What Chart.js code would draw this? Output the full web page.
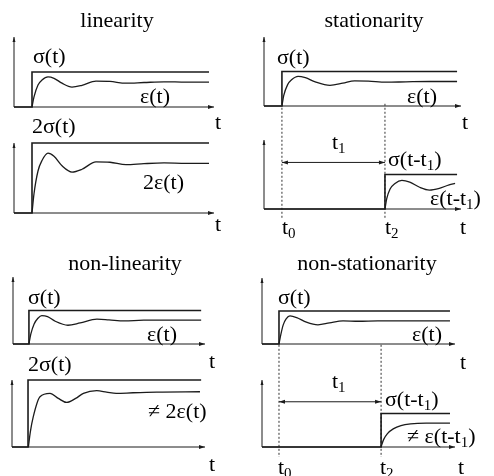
<!DOCTYPE html>
<html>
<head>
<meta charset="utf-8">
<script src="https://cdn.jsdelivr.net/npm/chart.js"></script>
<style>
  body { margin: 0; background: #fff; }
  #wrap { position: relative; width: 494px; height: 476px; }
  #wrap canvas { position: absolute; left: 0; top: 0; }
</style>
</head>
<body>
<div id="wrap"></div>
<script>
// --- data (time axis 0..100, y axis 0..2 with sigma = 1) ---
// linearity
const linStepT = [0, 9, 9, 97.5];
const linStepV = [0, 0, 1, 1];
const linStep2V = [0, 0, 2, 2];
const linRespT = [9, 10, 12, 14, 17, 20, 24, 29, 34, 41, 48, 56, 65, 75, 86, 97.5];
const linRespV = [0, 0.29, 0.63, 0.77, 0.86, 0.82, 0.68, 0.57, 0.62, 0.74, 0.73, 0.68, 0.70, 0.72, 0.71, 0.71];
const linResp2V = [0, 0.55, 1.2, 1.5, 1.71, 1.62, 1.35, 1.17, 1.25, 1.46, 1.45, 1.38, 1.41, 1.43, 1.42, 1.42];

// stationarity
const statStepT = [0, 9.1, 9.1, 98];
const statRespT = [9.1, 10, 12, 14, 17.3, 21, 26, 33.5, 40, 46, 53, 62, 72, 84, 98];
const statRespV = [0, 0.3, 0.62, 0.76, 0.86, 0.82, 0.7, 0.6, 0.66, 0.73, 0.72, 0.69, 0.7, 0.71, 0.71];
const statDelayStepT = [0, 61.4, 61.4, 98];
const statDelayRespT = [61.4, 62.3, 64, 66.5, 70, 74, 79, 84, 89, 94, 97];
const statDelayRespV = [0, 0.3, 0.58, 0.74, 0.83, 0.78, 0.63, 0.55, 0.6, 0.7, 0.74];
const statMarks = [9.1, 61.4]; // t0, t2

// non-linearity
const nlinStepT = [0, 8.3, 8.3, 98];
const nlinRespT = [8.3, 9.3, 11, 13, 15, 18, 22, 28.6, 35, 43.7, 50, 58, 68, 80, 98];
const nlinRespV = [0, 0.3, 0.6, 0.77, 0.85, 0.82, 0.68, 0.56, 0.63, 0.74, 0.72, 0.69, 0.71, 0.71, 0.71];
const nlinResp2T = [8.5, 9.5, 11, 14.5, 19.7, 24, 28.3, 33, 37, 43.9, 49, 54, 62.7, 75, 97.4];
const nlinResp2V = [0, 0.45, 0.9, 1.5, 1.6, 1.45, 1.33, 1.45, 1.6, 1.68, 1.64, 1.6, 1.62, 1.64, 1.65];

// non-stationarity
const nstStepT = [0, 8.8, 8.8, 97.4];
const nstRespT = [8.8, 9.8, 11, 12.5, 14.5, 18, 23, 29, 35, 42, 50, 60, 72, 85, 97.4];
const nstRespV = [0, 0.3, 0.58, 0.76, 0.85, 0.8, 0.66, 0.58, 0.64, 0.7, 0.69, 0.7, 0.7, 0.7, 0.7];
const nstDelayStepT = [0, 61.7, 61.7, 97.4];
const nstDelayRespT = [61.7, 63, 65, 68, 72, 77, 85, 97.4];
const nstDelayRespV = [0, 0.22, 0.4, 0.54, 0.64, 0.69, 0.71, 0.71];
const nstMarks = [8.8, 61.7];

const arrowLevel = 1.35;     // height of the t1 arrow
const dashRange = [3.05, -0.3]; // dotted guides run up to the panel above

const W = 494, H = 476;
const INK = '#1b1b1b';
const FONT = '"Liberation Serif", "Times New Roman", serif';

function pts(ts, vs) {
    return ts.map((t, i) => ({ x: t, y: vs[i] }));
}
function stepLine(ts, vs) {
    return { data: pts(ts, vs), borderColor: INK, borderWidth: 1.6, tension: 0 };
}
function respLine(ts, vs) {
    return { data: pts(ts, vs), borderColor: INK, borderWidth: 1.3, cubicInterpolationMode: 'monotone' };
}
function guide(t) {
    return { data: [{ x: t, y: dashRange[0] }, { x: t, y: dashRange[1] }], borderColor: '#333', borderWidth: 1, borderDash: [2, 2], tension: 0 };
}
function arrowLine(marks) {
    return { data: [{ x: marks[0], y: arrowLevel }, { x: marks[1], y: arrowLevel }], borderColor: INK, borderWidth: 1, tension: 0, isArrow: true };
}

// label parts: strings, or {sub: '1'} for a subscript
const panels = [
    { area: { l: 14, r: 214, t: 37, b: 107 },
      datasets: [stepLine(linStepT, linStepV), respLine(linRespT, linRespV)],
      labels: [
          { parts: ['linearity'], x: 117, y: 21, align: 'center' },
          { parts: ['σ(t)'], x: 33, y: 57 },
          { parts: ['ε(t)'], x: 140, y: 97 },
          { parts: ['t'], x: 215, y: 123 }
      ] },
    { area: { l: 14, r: 214, t: 143, b: 213 },
      datasets: [stepLine(linStepT, linStep2V), respLine(linRespT, linResp2V)],
      labels: [
          { parts: ['2σ(t)'], x: 32, y: 127 },
          { parts: ['2ε(t)'], x: 143, y: 183 },
          { parts: ['t'], x: 215, y: 225 }
      ] },
    { area: { l: 264, r: 461, t: 37, b: 106 },
      datasets: [stepLine(statStepT, linStepV), respLine(statRespT, statRespV)],
      labels: [
          { parts: ['stationarity'], x: 374, y: 21, align: 'center' },
          { parts: ['σ(t)'], x: 277, y: 58 },
          { parts: ['ε(t)'], x: 407, y: 97 },
          { parts: ['t'], x: 462, y: 123 }
      ] },
    { area: { l: 264, r: 461, t: 140, b: 209 },
      datasets: [stepLine(statDelayStepT, linStepV), respLine(statDelayRespT, statDelayRespV),
                 guide(statMarks[0]), guide(statMarks[1]), arrowLine(statMarks)],
      labels: [
          { parts: ['t', { sub: '1' }], x: 332, y: 143 },
          { parts: ['σ(t-t', { sub: '1' }, ')'], x: 388, y: 160 },
          { parts: ['ε(t-t', { sub: '1' }, ')'], x: 430, y: 199 },
          { parts: ['t', { sub: '0' }], x: 282, y: 228 },
          { parts: ['t', { sub: '2' }], x: 385, y: 228 },
          { parts: ['t'], x: 460, y: 228 }
      ] },
    { area: { l: 13, r: 205, t: 277, b: 344 },
      datasets: [stepLine(nlinStepT, linStepV), respLine(nlinRespT, nlinRespV)],
      labels: [
          { parts: ['non-linearity'], x: 125, y: 264, align: 'center' },
          { parts: ['σ(t)'], x: 28, y: 298 },
          { parts: ['ε(t)'], x: 147, y: 335 },
          { parts: ['t'], x: 209, y: 362 }
      ] },
    { area: { l: 12, r: 205, t: 380, b: 447 },
      datasets: [stepLine(nlinStepT, linStep2V), respLine(nlinResp2T, nlinResp2V)],
      labels: [
          { parts: ['2σ(t)'], x: 28, y: 365 },
          { parts: ['≠ 2ε(t)'], x: 148, y: 412 },
          { parts: ['t'], x: 209, y: 465 }
      ] },
    { area: { l: 262, r: 455, t: 278, b: 344 },
      datasets: [stepLine(nstStepT, linStepV), respLine(nstRespT, nstRespV)],
      labels: [
          { parts: ['non-stationarity'], x: 367, y: 264, align: 'center' },
          { parts: ['σ(t)'], x: 278, y: 298 },
          { parts: ['ε(t)'], x: 412, y: 335 },
          { parts: ['t'], x: 460, y: 363 }
      ] },
    { area: { l: 262, r: 455, t: 380, b: 447 },
      datasets: [stepLine(nstDelayStepT, linStepV), respLine(nstDelayRespT, nstDelayRespV),
                 guide(nstMarks[0]), guide(nstMarks[1]), arrowLine(nstMarks)],
      labels: [
          { parts: ['t', { sub: '1' }], x: 332, y: 382 },
          { parts: ['σ(t-t', { sub: '1' }, ')'], x: 385, y: 400 },
          { parts: ['≠ ε(t-t', { sub: '1' }, ')'], x: 407, y: 437 },
          { parts: ['t', { sub: '0' }], x: 278, y: 468 },
          { parts: ['t', { sub: '2' }], x: 380, y: 468 },
          { parts: ['t'], x: 458, y: 468 }
      ] }
];

function drawRich(ctx, parts, x, y, align) {
    const big = '22px ' + FONT, small = '15px ' + FONT;
    let total = 0;
    parts.forEach(p => {
        ctx.font = typeof p === 'string' ? big : small;
        total += ctx.measureText(typeof p === 'string' ? p : p.sub).width;
    });
    let cx = align === 'center' ? x - total / 2 : x;
    ctx.textBaseline = 'middle';
    ctx.textAlign = 'left';
    ctx.fillStyle = '#000';
    parts.forEach(p => {
        if (typeof p === 'string') {
            ctx.font = big;
            ctx.fillText(p, cx, y);
            cx += ctx.measureText(p).width;
        } else {
            ctx.font = small;
            ctx.fillText(p.sub, cx, y + 6);
            cx += ctx.measureText(p.sub).width;
        }
    });
}

function head(ctx, x, y, dx, dy, len, half) {
    // filled arrow head with its tip at (x, y) pointing along (dx, dy)
    ctx.beginPath();
    ctx.moveTo(x, y);
    ctx.lineTo(x - dx * len - dy * half, y - dy * len + dx * half);
    ctx.lineTo(x - dx * len + dy * half, y - dy * len - dx * half);
    ctx.closePath();
    ctx.fill();
}

const axesPlugin = {
    id: 'axes',
    beforeDatasetsDraw(chart) {
        const { ctx, scales: { x, y } } = chart;
        const x0 = x.getPixelForValue(0), x1 = x.getPixelForValue(100);
        const y0 = y.getPixelForValue(0), y1 = y.getPixelForValue(2);
        ctx.save();
        ctx.strokeStyle = INK;
        ctx.fillStyle = INK;
        ctx.lineWidth = 1;
        ctx.beginPath();
        ctx.moveTo(x0, y0); ctx.lineTo(x0, y1);
        ctx.moveTo(x0, y0); ctx.lineTo(x1, y0);
        ctx.stroke();
        head(ctx, x0, y1, 0, -1, 5, 1.5);
        head(ctx, x1, y0, 1, 0, 6, 2);
        ctx.restore();
    },
    afterDatasetsDraw(chart) {
        const { ctx } = chart;
        ctx.save();
        ctx.fillStyle = INK;
        chart.data.datasets.forEach((ds, i) => {
            if (!ds.isArrow) return;
            const els = chart.getDatasetMeta(i).data;
            const a = els[0], b = els[1];
            head(ctx, a.x, a.y, -1, 0, 6, 2);
            head(ctx, b.x, b.y, 1, 0, 6, 2);
        });
        ctx.restore();
    },
    afterDraw(chart) {
        const { ctx } = chart;
        ctx.save();
        chart.options.plugins.axes.labels.forEach(l => drawRich(ctx, l.parts, l.x, l.y, l.align));
        ctx.restore();
    }
};

const wrap = document.getElementById('wrap');
panels.forEach(p => {
    const cv = document.createElement('canvas');
    cv.width = W;
    cv.height = H;
    wrap.appendChild(cv);
    p.datasets.forEach(ds => {
        ds.pointRadius = 0;
        ds.fill = false;
        ds.clip = false;
    });
    new Chart(cv.getContext('2d'), {
        type: 'line',
        data: { datasets: p.datasets },
        options: {
            responsive: false,
            animation: false,
            devicePixelRatio: 1,
            layout: { padding: { left: p.area.l, right: W - p.area.r, top: p.area.t, bottom: H - p.area.b } },
            scales: {
                x: { type: 'linear', min: 0, max: 100, display: false },
                y: { type: 'linear', min: 0, max: 2, display: false }
            },
            plugins: {
                legend: { display: false },
                tooltip: { enabled: false },
                axes: { labels: p.labels }
            }
        },
        plugins: [axesPlugin]
    });
});
</script>
</body>
</html>
